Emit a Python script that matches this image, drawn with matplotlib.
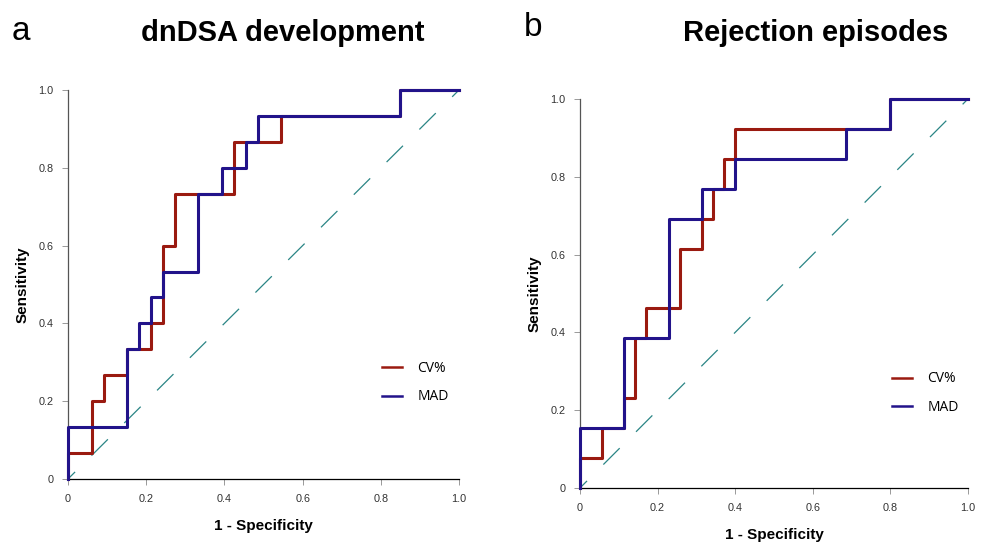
import matplotlib
matplotlib.use('Agg')
import matplotlib.pyplot as plt

# ROC corner points (1 - specificity, sensitivity)
dn_cv_fpr = [0, 0, 0.061, 0.091, 0.152, 0.212, 0.242, 0.273, 0.424, 0.545, 0.848, 1.0]
dn_cv_tpr = [0, 0.067, 0.2, 0.267, 0.333, 0.4, 0.6, 0.733, 0.867, 0.933, 1.0, 1.0]
dn_mad_fpr = [0, 0, 0.152, 0.182, 0.212, 0.242, 0.333, 0.394, 0.455, 0.485, 0.848, 1.0]
dn_mad_tpr = [0, 0.133, 0.333, 0.4, 0.467, 0.533, 0.733, 0.8, 0.867, 0.933, 1.0, 1.0]

rej_cv_fpr = [0, 0, 0.057, 0.114, 0.143, 0.171, 0.257, 0.314, 0.343, 0.371, 0.4, 0.8, 1.0]
rej_cv_tpr = [0, 0.077, 0.154, 0.231, 0.385, 0.462, 0.615, 0.692, 0.769, 0.846, 0.923, 1.0, 1.0]
rej_mad_fpr = [0, 0, 0.114, 0.229, 0.314, 0.4, 0.686, 0.8, 1.0]
rej_mad_tpr = [0, 0.154, 0.385, 0.692, 0.769, 0.846, 0.923, 1.0, 1.0]

tick_vals = [0, 0.2, 0.4, 0.6, 0.8, 1.0]
tick_labels = ['0', '0.2', '0.4', '0.6', '0.8', '1.0']

cv_color = '#9A1A10'
mad_color = '#22138A'
diag_color = '#2A8585'

plt.rcParams['font.family'] = ['Liberation Sans', 'DejaVu Sans']

fig = plt.figure(figsize=(9.87, 5.43), dpi=100)


def roc_panel(rect, cv_x, cv_y, mad_x, mad_y, leg_anchor):
    ax = fig.add_axes(rect)
    ax.set_xlim(0, 1)
    ax.set_ylim(0, 1)
    ax.plot([0, 1], [0, 1], color=diag_color, linewidth=0.9,
            linestyle=(10.5, (18.5, 18.5)), zorder=1)
    ax.plot(cv_x, cv_y, drawstyle='steps-post', color=cv_color,
            linewidth=2.2, label='CV%', clip_on=False, zorder=2)
    ax.plot(mad_x, mad_y, drawstyle='steps-post', color=mad_color,
            linewidth=2.2, label='MAD', clip_on=False, zorder=3)

    ax.spines['top'].set_visible(False)
    ax.spines['right'].set_visible(False)
    ax.spines['left'].set_color('#555555')
    ax.spines['bottom'].set_color('black')
    ax.spines['left'].set_linewidth(0.9)
    ax.spines['bottom'].set_linewidth(0.9)

    ax.set_xticks(tick_vals)
    ax.set_xticklabels(tick_labels)
    ax.set_yticks(tick_vals)
    ax.set_yticklabels(tick_labels)
    ax.tick_params(length=4.5, width=0.7, color='#999999', labelsize=7.8,
                   labelcolor='#333333')
    ax.tick_params(axis='x', pad=6)
    ax.tick_params(axis='y', pad=6)

    ax.set_xlabel('1 - Specificity', fontsize=11, fontweight='bold', labelpad=11)
    ax.set_ylabel('Sensitivity', fontsize=11, fontweight='bold', labelpad=6)

    leg = ax.legend(loc='center left', bbox_to_anchor=leg_anchor, frameon=False,
                    borderpad=0, borderaxespad=0, handlelength=1.45,
                    handletextpad=1.1, labelspacing=0.95,
                    prop={'family': 'Open Sans', 'size': 10})
    for h in leg.get_lines():
        h.set_linewidth(1.8)
    return ax


ax_a = roc_panel([0.0689, 0.1179, 0.3962, 0.7164], dn_cv_fpr, dn_cv_tpr,
                 dn_mad_fpr, dn_mad_tpr, (0.803, 0.247))
ax_b = roc_panel([0.5876, 0.1013, 0.3931, 0.7164], rej_cv_fpr, rej_cv_tpr,
                 rej_mad_fpr, rej_mad_tpr, (0.804, 0.244))

fig.text(283 / 987, 1 - 33 / 543, 'dnDSA development', ha='center', va='center',
         fontsize=21, fontweight='bold')
fig.text(816 / 987, 1 - 33 / 543, 'Rejection episodes', ha='center', va='center',
         fontsize=21, fontweight='bold')
fig.text(12 / 987, 1 - 31 / 543, 'a', ha='left', va='center', fontsize=24)
fig.text(524 / 987, 1 - 27 / 543, 'b', ha='left', va='center', fontsize=24)

fig.savefig('out.png', dpi=100)
